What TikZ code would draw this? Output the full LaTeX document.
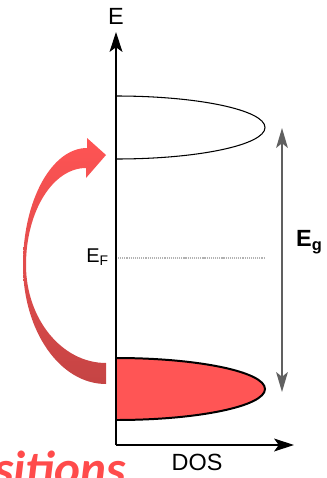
\documentclass[tikz,border=0pt]{standalone}
\usepackage{fontspec}
\setsansfont{Liberation Sans}
\newfontfamily\notefont{Carlito}
\usepackage{xcolor}
\usetikzlibrary{arrows.meta, positioning}
\definecolor{bandred}{HTML}{FF5555}
\definecolor{jumptop}{HTML}{FF5454}
\definecolor{jumpbottom}{HTML}{C54444}
\definecolor{notered}{HTML}{FF4B4B}
\tikzset{
  axisarrow/.style={
    -{Stealth[length=17pt, width=11pt, inset=4pt]}, line width=0.9pt
  },
  gaparrow/.style={
    {Stealth[length=17pt, width=10pt, inset=4pt]}-{Stealth[length=17pt, width=10pt, inset=4pt]},
    line width=1.4pt, draw=gray!75!black
  },
  bandline/.style={line width=0.9pt},
  bandfilled/.style={fill=bandred, line width=1.7pt},
  fermiline/.style={dash pattern=on 1pt off 0.8pt, line width=1pt, gray!60},
  levellabel/.style={font=\sffamily, inner sep=0pt},
}

\begin{document}
\begin{tikzpicture}[x=0.03cm, y=-0.03cm]
  \useasboundingbox (0,0) rectangle (326,478);

  % ── axes ──
  \coordinate (origin) at (116,445);
  \coordinate (ytip) at (116,32);
  \coordinate (xtip) at (294,445);
  \draw[axisarrow] (origin) -- (ytip);
  \draw[axisarrow] (origin) -- (xtip);
  \node[levellabel, font=\sffamily\fontsize{20}{20}\selectfont] (elabel)
    at (116,16) {E};
  \node[levellabel, font=\sffamily\fontsize{20}{20}\selectfont] (doslabel)
    at (197,462) {DOS};

  % ── conduction band (empty) ──
  \draw[bandline] (116,96) arc[start angle=90, end angle=-90,
    x radius=4.47cm, y radius=0.945cm];

  % ── valence band (filled) ──
  \draw[bandfilled] (116,358) arc[start angle=90, end angle=-90,
    x radius=4.47cm, y radius=0.93cm] -- cycle;

  % ── Fermi level ──
  \coordinate (efstart) at (118,258);
  \coordinate (efend) at (264,258);
  \draw[fermiline] (efstart) -- (efend);
  \node[levellabel, anchor=east, font=\sffamily\fontsize{17}{17}\selectfont]
    (eflabel) at (109,257) {E\textsubscript{F}};

  % ── band gap ──
  \coordinate (gaptop) at (282,128);
  \coordinate (gapbot) at (282,392);
  \draw[gaparrow] (gapbot) -- (gaptop);
  \node[levellabel, anchor=west, font=\sffamily\bfseries\fontsize{20}{20}\selectfont]
    (eglabel) at (296,242) {E\textsubscript{g}};

  % ── excitation arrow ──
  \shade[top color=jumptop, bottom color=jumpbottom]
    (106,363) .. controls (62,363) and (26,319) .. (26,265)
    .. controls (26,211) and (53,168) .. (86,168)
    -- (86,178) -- (106,155) -- (87,138) -- (87,148)
    .. controls (52,148) and (23,200) .. (23,265)
    .. controls (23,331) and (60,384) .. (106,384) -- cycle;

  % ── caption fragment ──
  \node[anchor=base west, inner sep=0pt, text=notered,
    font=\notefont\bfseries\itshape\fontsize{42}{42}\selectfont]
    (notelabel) at (-6,485) {sitions};
\end{tikzpicture}
\end{document}
